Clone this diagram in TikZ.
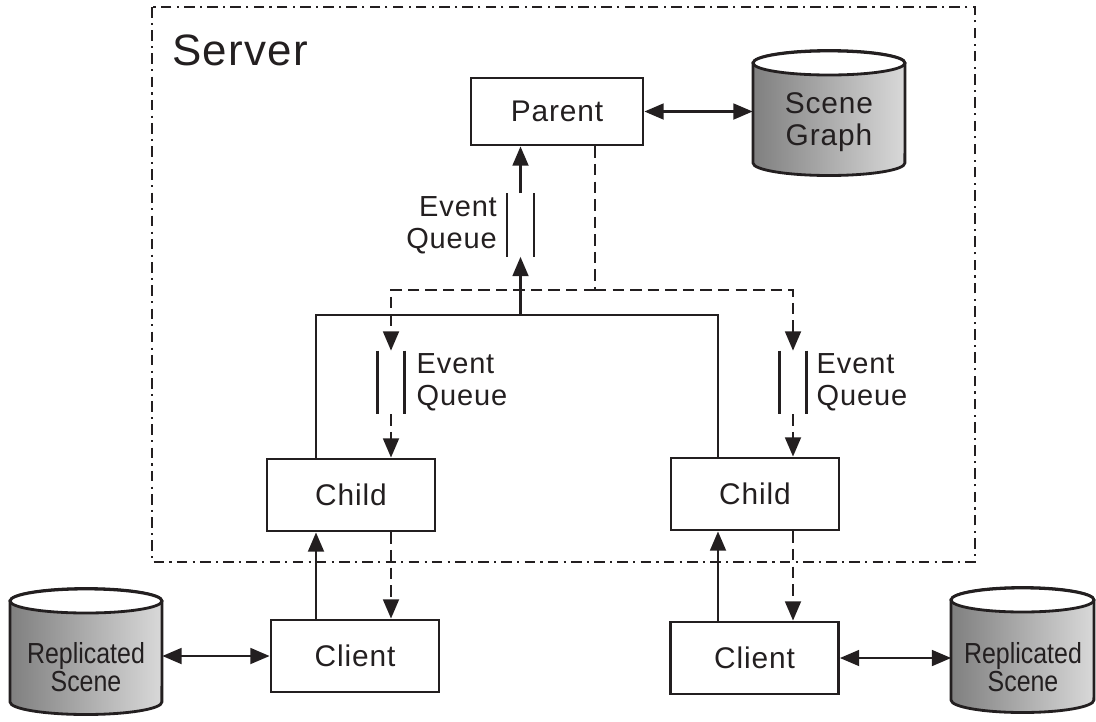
\documentclass[tikz,border=0pt]{standalone}
\usepackage{fontspec}
\setmainfont{Liberation Sans}[LetterSpace=3]
\newfontfamily\narrowfont{Liberation Sans}[FakeStretch=0.86]
\usetikzlibrary{arrows.meta,positioning}
\definecolor{ink}{HTML}{231F20}

\tikzset{
  box/.style={draw=ink, line width=1.6pt, minimum width=3.36cm, minimum height=1.44cm,
    font=\fontsize{17}{20}\selectfont, text=ink},
  link/.style={draw=ink, line width=1.4pt},
  dlink/.style={link, dash pattern=on 6.5pt off 3.5pt},
  srvframe/.style={draw=ink, line width=1.3pt, dash pattern=on 6pt off 3pt on 1.2pt off 3pt},
  queue/.style={minimum width=0.52cm, minimum height=1.26cm, inner sep=0pt,
    append after command={(\tikzlastnode.north west) edge[link] (\tikzlastnode.south west)
      (\tikzlastnode.north east) edge[link] (\tikzlastnode.south east)}},
  qtext/.style={font=\fontsize{16.5}{18}\selectfont, text=ink, inner sep=0pt},
  dbbody/.style={draw=ink, line width=1.6pt, left color=black!50, right color=black!15},
  dbtop/.style={draw=ink, line width=1.6pt, fill=white},
  dbtext/.style={inner sep=0pt, align=center, text=ink, font=\fontsize{17}{18}\selectfont}
}

% cylinder: left x, right x, top centre y, bottom centre y
\newcommand\dbcyl[4]{%
  \pgfmathsetmacro\dbrx{(#2-#1)*0.01}
  \path[dbbody] (#1,#3) -- (#1,#4) arc[start angle=180, end angle=360, x radius=\dbrx cm, y radius=0.25cm]
    -- (#2,#3) arc[start angle=0, end angle=180, x radius=\dbrx cm, y radius=0.25cm] -- cycle;
  \draw[dbtop] ({(#1+#2)/2},#3) ellipse[x radius=\dbrx cm, y radius=0.24cm];
}

\begin{document}
\begin{tikzpicture}[x=0.02cm, y=-0.02cm, >={Triangle[length=11pt,width=9pt]}]
  \useasboundingbox (0,0) rectangle (1096,721);
  % server area
  \draw[srvframe] (152,7) rectangle (975,562);
  \node[anchor=base west, inner sep=0pt, text=ink, font=\fontsize{25}{30}\selectfont] (srvlbl) at (172,65) {Server};

  % databases
  \dbcyl{753}{905}{63}{163}
  \dbcyl{10}{162}{601}{702}
  \dbcyl{951}{1094}{600}{700}
  \node[dbtext, minimum width=3.04cm] (sg) at (829,122) {Scene\\Graph};
  \node[dbtext, minimum width=3.04cm, font=\narrowfont\fontsize{16.5}{16}\selectfont] (repL) at (86,667) {Replicated\\Scene};
  \node[dbtext, minimum width=2.86cm, font=\narrowfont\fontsize{16.5}{16}\selectfont] (repR) at (1023,667) {Replicated\\Scene};

  % processes
  \node[box, minimum width=3.44cm, minimum height=1.34cm] (parent) at (557,111.5) {Parent};
  \node[box] (childL) at (351,495) {Child};
  \node[box] (childR) at (755,494) {Child};
  \node[box] (clientL) at (355,656) {Client};
  \node[box] (clientR) at (754.5,658) {Client};

  % event queues
  \node[queue] (qP) at (520.5,225) {};
  \node[queue] (qL) at (391,382.5) {};
  \node[queue] (qR) at (793,382.5) {};
  \node[qtext, align=right, left=0.2cm of qP] (qPtxt) {Event\\Queue};
  \node[qtext, align=left, right=0.24cm of qL] (qLtxt) {Event\\Queue};
  \node[qtext, align=left, right=0.2cm of qR] (qRtxt) {Event\\Queue};

  \coordinate (jL) at (316,315);
  \coordinate (jR) at (718,315);
  \coordinate (dP) at (595,290);

  % children to parent
  \draw[link] (childL.north -| jL) -- (jL) -- (jR) -- (childR.north -| jR);
  \draw[link,->] (jL -| qP) -- (qP.south);
  \draw[link,->] (qP.north) -- (parent.south -| qP);
  % parent to children
  \draw[dlink] (parent.south -| dP) -- (dP);
  \draw[dlink,->] (dP) -| (qL.north);
  \draw[dlink,->] (dP) -| (qR.north);
  \draw[dlink,->] (qL.south) -- (childL.north -| qL);
  \draw[dlink,->] (qR.south) -- (childR.north -| qR);

  % clients
  \draw[link,->] (clientL.north -| jL) -- (childL.south -| jL);
  \draw[dlink,->] (childL.south -| qL) -- (clientL.north -| qL);
  \draw[link,->] (clientR.north -| jR) -- (childR.south -| jR);
  \draw[dlink,->] (childR.south -| qR) -- (clientR.north -| qR);

  % scene data
  \draw[link,<->] (parent.east) -- (parent.east -| sg.west);
  \draw[link,<->] (clientL.west) -- (clientL.west -| repL.east);
  \draw[link,<->] (clientR.east) -- (clientR.east -| repR.west);
\end{tikzpicture}
\end{document}
